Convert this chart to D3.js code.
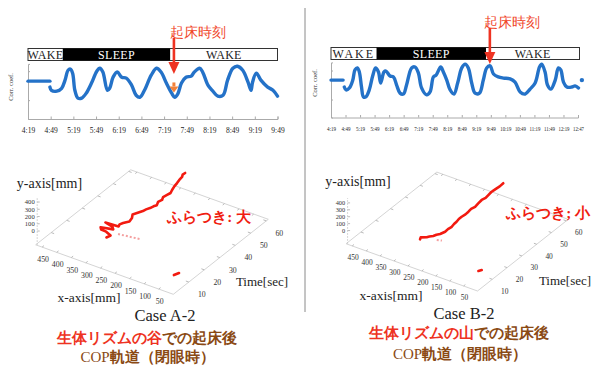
<!DOCTYPE html>
<html>
<head>
<meta charset="utf-8">
<script src="https://cdn.jsdelivr.net/npm/d3@7"></script>
<style>
  body { margin: 0; background: #fff; }
  text { font-family: "Liberation Serif", serif; }
</style>
</head>
<body>
<svg id="chart" width="597" height="365"></svg>
<script>
// ---- top panels: correlation coefficient over the night (minutes after 4:19) ----
const leftTickLabels = ["4:19","4:49","5:19","5:49","6:19","6:49","7:19","7:49","8:19","8:49","9:19","9:49"];
const leftTickMin = [0, 30, 60, 90, 120, 150, 180, 210, 240, 270, 300, 330];
const leftFlatT = [0, 29];
const leftFlatV = [0.155, 0.155];
const leftT = [29, 31, 38, 44.5, 49, 53, 56, 59, 62, 66, 71, 77, 84, 91, 95, 99, 105, 108, 112.5, 118,
  124, 130, 137, 143, 148, 154, 163, 170, 176, 183, 190, 194, 198, 203, 209, 216, 220, 227, 231, 238,
  244.5, 251, 258, 264, 271, 277, 284, 291, 295, 297, 302, 308, 317, 324, 330];
const leftV = [-0.05, -0.16, -0.19, -0.09, 0.19, 0.53, 0.57, 0.43, -0.16, -0.43, -0.43, -0.26, 0.09, 0.5, 0.6, 0.47, -0.16, -0.09, 0.29, 0.47,
  0.29, 0.26, 0.02, -0.33, -0.4, -0.16, 0.36, 0.6, 0.47, 0.09, -0.26, -0.4, -0.29, 0.09, 0.29, 0.33, 0.47, 0.6, 0.47, 0.02,
  -0.19, -0.36, -0.33, 0.19, 0.6, 0.67, 0.53, 0.12, -0.16, 0.12, 0.43, 0.19, -0.05, -0.16, -0.36];
const leftSleep = [46, 188];
const leftWakeUp = 193;

const rightTickLabels = ["4:19","4:49","5:19","5:49","6:19","6:49","7:19","7:49","8:19","8:49","9:19","9:49","10:19","10:49","11:19","11:49","12:19","12:47"];
const rightTickMin = [0, 30, 60, 90, 120, 150, 180, 210, 240, 270, 300, 330, 360, 390, 420, 450, 480, 510];
const rightFlatT = [0, 25];
const rightFlatV = [0.17, 0.17];
const rightT = [27.5, 31, 38, 45, 49.5, 54.5, 58.5, 63, 67, 72, 79, 86, 92, 98, 102.5, 109.5, 113.5, 122, 129, 135.5,
  142.5, 149.5, 156, 166.5, 173.5, 180.5, 187, 197.5, 204.5, 211.5, 217, 226.5, 232, 239, 246, 254, 261.5, 270, 277, 283.5,
  290.5, 297.5, 306.5, 314.5, 321.5, 328.5, 335.5, 345.5, 356, 370, 380, 390.5, 401, 411, 421.5, 430.5, 435, 442, 447, 454,
  463, 469.5, 474.5, 480, 487, 497, 504, 511];
const rightV = [-0.07, -0.17, -0.1, 0.17, 0.52, 0.59, 0.45, -0.07, -0.41, -0.41, -0.17, 0.31, 0.59, 0.45, 0.07, 0.45, 0.48, 0.31, 0.28, 0,
  -0.28, -0.31, 0, 0.59, 0.62, 0.41, -0.1, -0.34, -0.24, 0.28, 0.34, 0.62, 0.45, 0.17, -0.17, -0.31, 0.07, 0.59, 0.72, 0.59,
  0.07, -0.28, -0.28, 0.17, 0.59, 0.66, 0.38, 0.28, 0.24, 0.21, 0.1, -0.24, -0.31, -0.14, 0.07, 0.62, 0.72, 0.45, 0, -0.14,
  0.17, 0.59, 0.52, 0.1, -0.07, -0.07, -0.03, -0.1];
const rightDotT = [518];
const rightDotV = [0.17];
const rightSleep = [94, 320];
const rightWakeUp = 328;

// ---- bottom panels: COP trajectory (time s, x mm, y mm) ----
const xTicks3d = [50, 100, 150, 200, 250, 300, 350, 400, 450];
const tTicks3d = [10, 20, 30, 40, 50, 60];
const zTicks3d = [0, 100, 200, 300, 400];

const copAT = [0.5, 2.4, 3.7, 3.9, 5.0, 6.4, 7.7, 8.5, 9.1, 10.5, 12.0, 14.2, 16.6, 18.5, 20.4, 22.7, 24.2, 25.8, 27.5, 28.9,
  30.8, 32.8, 34.6, 36.6, 38.5, 40.4, 42.8, 45.3, 47.5, 49.7, 51.2, 52.6];
const copAX = [232, 228, 250, 268, 276, 240, 250, 278, 236, 240, 236, 226, 230, 238, 233, 225, 222, 217, 214, 210,
  216, 213, 219, 216, 214, 219, 224, 228, 232, 234, 240, 239];
const copAY = [250, 250, 250, 250, 250, 250, 250, 255, 250, 250, 250, 248, 250, 255, 250, 250, 252, 250, 250, 248,
  252, 250, 250, 250, 248, 250, 252, 250, 250, 252, 250, 250];
const copAFaintT = [4.8, 5.2, 5.6, 6.0, 6.4];
const copAFaintX = [215, 196, 180, 163, 148];
const copADotT = [3.2, 5.4];
const copADotX = [15, 9];

const copBT = [0.3, 1.5, 2.9, 4.0, 5.1, 6.5, 7.7, 10.1, 12.2, 14.4, 16.5, 18.4, 20.5, 22.4, 24.6, 26.8, 29.0, 31.1, 33.8, 36.5,
  38.6, 40.8, 43.2, 45.6, 48.3, 50.9];
const copBX = [208, 212, 198, 194, 186, 182, 175, 170, 171, 169, 172, 173, 176, 176, 174, 175, 177, 174, 177, 179,
  176, 178, 180, 179, 177, 178];
const copBY = [250, 252, 250, 248, 250, 250, 250, 250, 250, 250, 250, 250, 250, 250, 250, 250, 250, 250, 250, 250,
  250, 250, 250, 250, 250, 250];
const copBFaintT = [3.5, 4.2];
const copBFaintX = [165, 150];
const copBDotT = [4.2, 5.5];
const copBDotX = [19, 14];

const svg = d3.select("#chart");
const blue = "#2472c8";
const red = "#ee3322";

function drawTop(o) {
  const g = svg.append("g");
  const x = d3.scaleLinear().domain(o.xDomain).range(o.xRange);
  const y = d3.scaleLinear().domain(o.yDomain).range(o.yRange);

  const xa = g.append("g")
    .attr("transform", `translate(0,${o.yRange[0]})`)
    .call(d3.axisBottom(x).tickValues(o.tickMin).tickFormat((d, i) => o.tickLab[i]).tickSize(-2.5).tickPadding(o.tickPad));
  xa.select(".domain").attr("stroke", "#aaa");
  xa.selectAll(".tick line").attr("stroke", "#aaa");
  xa.selectAll("text").attr("font-size", o.tickFont).style("fill", "#222")
    .attr("font-family", "Liberation Serif");
  if (o.squeeze) {
    xa.selectAll("text").attr("textLength", d => (String(o.tickLab[o.tickMin.indexOf(d)]).length > 4 ? 11 : 9))
      .attr("lengthAdjust", "spacingAndGlyphs");
  }

  const ya = g.append("g")
    .attr("transform", `translate(${o.xRange[0]},0)`)
    .call(d3.axisLeft(y).tickValues([-0.5, 0.5]).tickFormat("").tickSize(-2));
  ya.select(".domain").attr("stroke", "#aaa");
  ya.selectAll(".tick line").attr("stroke", "#aaa");

  g.append("text")
    .attr("transform", `translate(${o.ylabX},${o.ylabY}) rotate(-90)`)
    .attr("text-anchor", "middle").attr("font-size", 6.5).attr("fill", "#333")
    .text("Corr. coef.");

  // sleep / wake bar
  const bx0 = o.xRange[0], bx1 = o.barEnd;
  g.append("rect").attr("x", bx0).attr("y", o.barY).attr("width", bx1 - bx0).attr("height", 12)
    .attr("fill", "#fff").attr("stroke", "#333").attr("stroke-width", 1);
  g.append("rect").attr("x", x(o.sleep[0])).attr("y", o.barY).attr("width", x(o.sleep[1]) - x(o.sleep[0])).attr("height", 12)
    .attr("fill", "#000");
  const mids = [(bx0 + x(o.sleep[0])) / 2, (x(o.sleep[0]) + x(o.sleep[1])) / 2, (x(o.sleep[1]) + bx1) / 2];
  ["WAKE", "SLEEP", "WAKE"].forEach((s, i) => {
    g.append("text").attr("x", mids[i]).attr("y", o.barY + 10.5).attr("text-anchor", "middle")
      .attr("font-size", 12).attr("letter-spacing", i === 0 ? o.wake0Spacing : 0.3)
      .attr("fill", i === 1 ? "#fff" : "#222").text(s);
  });

  const line = d3.line().x(d => x(d[0])).y(d => y(d[1])).curve(d3.curveCatmullRom);
  g.append("path").datum(d3.zip(o.flatT, o.flatV)).attr("d", line)
    .attr("fill", "none").attr("stroke", blue).attr("stroke-width", 3.4).attr("stroke-linecap", "round");
  g.append("path").datum(d3.zip(o.t, o.v)).attr("d", line)
    .attr("fill", "none").attr("stroke", blue).attr("stroke-width", 3.4)
    .attr("stroke-linecap", "round").attr("stroke-linejoin", "round");
  if (o.dotT) {
    g.selectAll(".dot").data(d3.zip(o.dotT, o.dotV)).join("circle")
      .attr("cx", d => x(d[0])).attr("cy", d => y(d[1])).attr("r", 2.2).attr("fill", blue);
  }

  // wake-up arrow
  const ax = x(o.wakeUp);
  g.append("line").attr("x1", ax).attr("x2", ax).attr("y1", o.arrowTop).attr("y2", o.arrowTip - 11)
    .attr("stroke", red).attr("stroke-width", 2.6);
  g.append("path").attr("d", `M${ax - 5.5},${o.arrowTip - 12}L${ax + 5.5},${o.arrowTip - 12}L${ax},${o.arrowTip}Z`)
    .attr("fill", red);
  g.append("text").attr("x", o.labX).attr("y", o.labY).attr("text-anchor", "middle")
    .attr("font-family", "Noto Sans CJK JP").attr("font-weight", 500).attr("font-size", 13.5)
    .attr("fill", "#f04428").text("起床時刻");
  if (o.marker) {
    const my = y(o.marker);
    g.append("rect").attr("x", ax - 1.5).attr("y", my - 9).attr("width", 3).attr("height", 4).attr("fill", "#f2813a");
    g.append("path").attr("d", `M${ax - 4.5},${my - 5}L${ax + 4.5},${my - 5}L${ax},${my + 1}Z`).attr("fill", "#f2813a");
  }
}

drawTop({
  xDomain: [0, 330], xRange: [28, 277.5], yDomain: [-1.15, 0.75], yRange: [119, 63.9],
  tickMin: leftTickMin, tickLab: leftTickLabels, tickFont: 7.5, tickPad: 9, squeeze: false,
  ylabX: 13, ylabY: 87, barY: 48.5, barEnd: 277.5, wake0Spacing: 0.3,
  sleep: leftSleep, wakeUp: leftWakeUp, flatT: leftFlatT, flatV: leftFlatV, t: leftT, v: leftV,
  arrowTop: 38, arrowTip: 74, labX: 198, labY: 37, marker: -0.2
});
drawTop({
  xDomain: [0, 510], xRange: [331, 578], yDomain: [-1.12, 0.78], yRange: [117.5, 62.4],
  tickMin: rightTickMin, tickLab: rightTickLabels, tickFont: 7, tickPad: 8.5, squeeze: true,
  ylabX: 316.5, ylabY: 83, barY: 47.5, barEnd: 579.5, wake0Spacing: 2,
  sleep: rightSleep, wakeUp: rightWakeUp, flatT: rightFlatT, flatV: rightFlatV, t: rightT, v: rightV,
  dotT: rightDotT, dotV: rightDotV,
  arrowTop: 28, arrowTip: 64, labX: 512, labY: 27, marker: null
});

// divider
svg.append("line").attr("x1", 305).attr("x2", 305).attr("y1", 8).attr("y2", 312)
  .attr("stroke", "#8a8a8a").attr("stroke-width", 1);

// ---- 3D COP plots ----
function draw3D(o) {
  const g = svg.append("g");
  const k = o.k;
  const fx = d3.scaleLinear().domain([0, 472]).range([0, 1]);
  const ft = d3.scaleLinear().domain([0, 61.3]).range([0, 1]);
  const fz = d3.scaleLinear().domain([-190, 470]).range([0, -47.85 * k]);
  const ex = [-137.6 * k, -49.5 * k], et = [95 * k, -75 * k];
  const A = o.A;
  const proj = (x, t, z) => [A[0] + fx(x) * ex[0] + ft(t) * et[0], A[1] + fx(x) * ex[1] + ft(t) * et[1] + fz(z)];
  const zb = -190;

  const C = proj(472, 0, zb), B = proj(0, 61.3, zb), D = proj(472, 61.3, zb);
  const frame = [[C, A], [A, B], [C, D], [D, B]];
  frame.forEach(([p, q]) => g.append("line").attr("x1", p[0]).attr("y1", p[1]).attr("x2", q[0]).attr("y2", q[1])
    .attr("stroke", "#cfcfcf").attr("stroke-width", 0.9));
  const zTop = proj(472, 0, 470);
  g.append("line").attr("x1", C[0] + 1.5).attr("y1", C[1]).attr("x2", zTop[0] + 1.5).attr("y2", zTop[1])
    .attr("stroke", "#c4c4c4").attr("stroke-width", 0.9).attr("stroke-dasharray", "1.5,1.5");

  // ticks
  xTicks3d.forEach(v => {
    [[proj(v, 0, zb), proj(v, 1.2, zb)], [proj(v, 61.3, zb), proj(v, 60.1, zb)]].forEach(([p, q]) =>
      g.append("line").attr("x1", p[0]).attr("y1", p[1]).attr("x2", q[0]).attr("y2", q[1]).attr("stroke", "#bbb"));
    const p = proj(v, 0, zb);
    g.append("text").attr("x", p[0] + 1 * k).attr("y", p[1] + 15 * k).attr("text-anchor", "middle")
      .attr("font-family", "Liberation Sans").attr("font-size", 7.8 * k).style("fill", "#333").text(v);
  });
  tTicks3d.forEach(v => {
    [[proj(0, v, zb), proj(10, v, zb)], [proj(472, v, zb), proj(462, v, zb)]].forEach(([p, q]) =>
      g.append("line").attr("x1", p[0]).attr("y1", p[1]).attr("x2", q[0]).attr("y2", q[1]).attr("stroke", "#bbb"));
    const p = proj(0, v, zb);
    g.append("text").attr("x", p[0] + 13 * k).attr("y", p[1] + 15 * k).attr("text-anchor", "middle")
      .attr("font-family", "Liberation Sans").attr("font-size", 7.8 * k).style("fill", "#333").text(v);
  });
  zTicks3d.forEach(v => {
    const p = proj(472, 0, v);
    g.append("line").attr("x1", p[0] + 1.5).attr("y1", p[1]).attr("x2", p[0] + 4).attr("y2", p[1]).attr("stroke", "#bbb");
    g.append("text").attr("x", p[0] - 1).attr("y", p[1] + 2.4).attr("text-anchor", "end")
      .attr("font-family", "Liberation Sans").attr("font-size", 6.6 * k).style("fill", "#333").text(v);
  });

  const line = d3.line().x(d => proj(d[1], d[0], d[2])[0]).y(d => proj(d[1], d[0], d[2])[1]);
  g.append("path").datum(d3.zip(o.faintT, o.faintX, o.faintT.map(() => 250))).attr("d", line)
    .attr("fill", "none").attr("stroke", "#f4a0a0").attr("stroke-width", 2).attr("stroke-dasharray", "2,2");
  g.append("path").datum(d3.zip(o.t, o.x, o.y)).attr("d", line)
    .attr("fill", "none").attr("stroke", "#f21a10").attr("stroke-width", 2.6)
    .attr("stroke-linejoin", "round").attr("stroke-linecap", "round");
  g.append("path").datum(d3.zip(o.dotT, o.dotX, o.dotT.map(() => 0))).attr("d", line)
    .attr("fill", "none").attr("stroke", "#f21a10").attr("stroke-width", 2.6).attr("stroke-linecap", "round");

  // labels
  const t = (x, y, s, size, anchor) => g.append("text").attr("x", x).attr("y", y).attr("text-anchor", anchor || "middle")
    .attr("font-size", size).attr("fill", "#222").text(s);
  t(o.ylab[0], o.ylab[1], "y-axis[mm]", 14);
  t(o.xlab[0], o.xlab[1], "x-axis[mm]", 13.5);
  t(o.tlab[0], o.tlab[1], "Time[sec]", 13);
  t(o.caseLab[0], o.caseLab[1], o.caseText, 16.5);

  g.append("text").attr("x", o.sway[0]).attr("y", o.sway[1]).attr("text-anchor", "middle")
    .attr("font-family", "Noto Sans CJK JP").attr("font-weight", 700).attr("font-size", 15)
    .attr("fill", "#f01c10").text(o.swayText);

  const l1 = g.append("text").attr("x", o.cap1[0]).attr("y", o.cap1[1]).attr("text-anchor", "middle")
    .attr("font-family", "Noto Sans CJK JP").attr("font-weight", 700).attr("font-size", 15);
  l1.append("tspan").attr("fill", "#ee3322").text(o.capRed);
  l1.append("tspan").attr("fill", "#8a4a14").text("での起床後");
  const l2 = g.append("text").attr("x", o.cap2[0]).attr("y", o.cap2[1]).attr("text-anchor", "middle")
    .attr("font-family", "Noto Sans CJK JP").attr("font-weight", 700).attr("font-size", 15).attr("fill", "#8a4a14");
  l2.append("tspan").attr("font-family", "Liberation Serif").attr("font-weight", 400).text("COP");
  l2.append("tspan").text("軌道（閉眼時）");
}

draw3D({
  A: [173.3, 294.3], k: 1,
  t: copAT, x: copAX, y: copAY, faintT: copAFaintT, faintX: copAFaintX, dotT: copADotT, dotX: copADotX,
  ylab: [49.5, 187.5], xlab: [89, 301.5], tlab: [262, 286], caseLab: [165, 321], caseText: "Case A-2",
  sway: [209, 222], swayText: "ふらつき: 大",
  cap1: [147, 343], cap2: [147.5, 361.5], capRed: "生体リズムの谷"
});
draw3D({
  A: [477.5, 291], k: 0.955,
  t: copBT, x: copBX, y: copBY, faintT: copBFaintT, faintX: copBFaintX, dotT: copBDotT, dotX: copBDotX,
  ylab: [358, 186], xlab: [391, 299.5], tlab: [565, 285], caseLab: [464, 318.5], caseText: "Case B-2",
  sway: [548, 218], swayText: "ふらつき; 小",
  cap1: [459, 338], cap2: [460, 359], capRed: "生体リズムの山"
});
</script>
</body>
</html>
